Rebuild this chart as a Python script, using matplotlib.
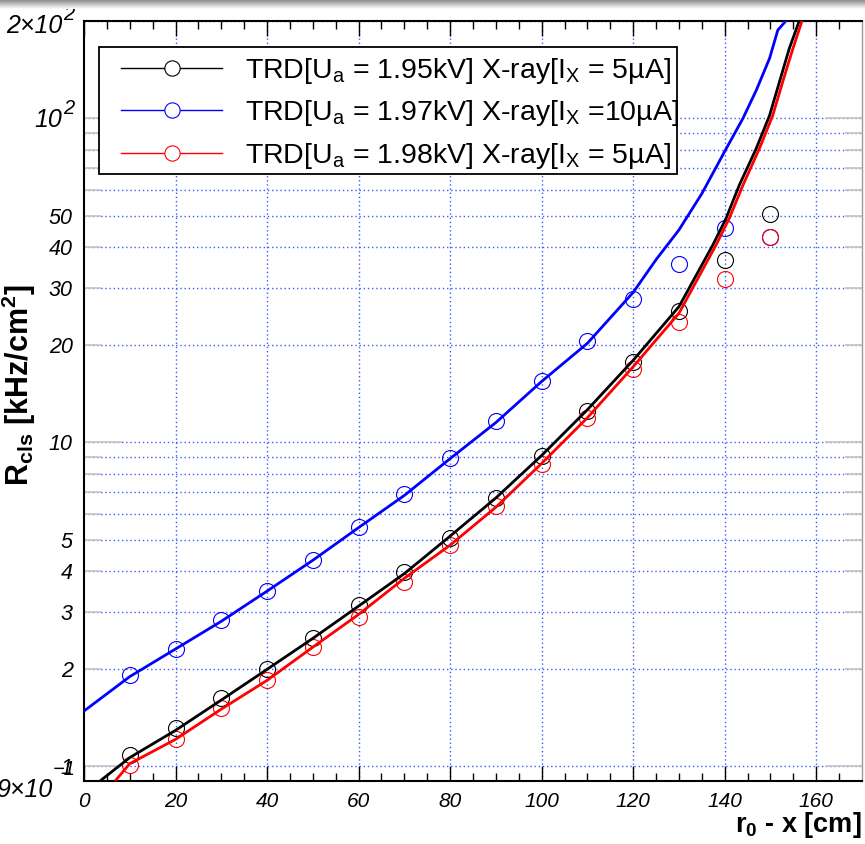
import numpy as np
import matplotlib
matplotlib.use("Agg")
import matplotlib.pyplot as plt
from matplotlib.patches import Rectangle
from matplotlib.lines import Line2D
from matplotlib.transforms import offset_copy

plt.rcParams["font.family"] = ["Liberation Sans", "DejaVu Sans"]
plt.rcParams["mathtext.fontset"] = "custom"
plt.rcParams["mathtext.rm"] = "Liberation Sans"
plt.rcParams["mathtext.it"] = "Liberation Sans:italic"
plt.rcParams["mathtext.bf"] = "Liberation Sans:bold"

# ---- measured cluster rates [kHz/cm^2] vs distance r0 - x [cm] ----
distance = [10, 20, 30, 40, 50, 60, 70, 80, 90, 100, 110, 120, 130, 140, 150]
rate_195 = [1.08, 1.31, 1.62, 1.99, 2.49, 3.14, 3.98, 5.05, 6.71, 9.05, 12.5, 17.7, 25.4, 36.5, 50.5]
rate_197 = [1.91, 2.30, 2.83, 3.47, 4.34, 5.46, 6.91, 8.93, 11.6, 15.4, 20.6, 27.6, 35.5, 45.7, 43.0]
rate_198 = [1.01, 1.21, 1.51, 1.84, 2.33, 2.89, 3.70, 4.81, 6.35, 8.55, 11.9, 16.8, 23.5, 32.0, 42.9]

# ---- fitted rate curves (sampled) ----
fit_x_195 = [3.5, 10, 20, 30, 40, 50, 60, 70, 80, 90, 100, 110, 120, 130, 137.4, 140.3, 143.2, 146.9, 149.8, 152.0, 154.1, 156.3]
fit_y_195 = [0.9, 1.063, 1.29, 1.60, 1.99, 2.48, 3.12, 3.93, 5.13, 6.73, 9.1, 12.6, 17.9, 26.2, 40.6, 49.1, 62.2, 80.7, 102, 130, 164, 200]
fit_x_197 = [0, 10, 20, 30, 40, 50, 60, 70, 80, 90, 100, 110, 120, 125, 130, 135, 140, 144.0, 146.9, 149.8, 151.6, 153.4]
fit_y_197 = [1.48, 1.89, 2.30, 2.80, 3.47, 4.32, 5.45, 6.85, 8.9, 11.5, 15.4, 20.2, 29.0, 36.6, 45.2, 58.5, 79, 100, 122, 153, 187, 200]
fit_x_198 = [6.8, 10, 20, 30, 40, 50, 60, 70, 80, 90, 100, 110, 120, 130, 138.1, 141.0, 144.0, 147.6, 150.5, 152.7, 154.9, 156.9]
fit_y_198 = [0.9, 1.018, 1.21, 1.50, 1.84, 2.33, 2.94, 3.80, 4.81, 6.30, 8.6, 11.9, 17.1, 25.0, 40.6, 49.1, 62.2, 80.7, 102, 130, 164, 200]

series_labels = [
    r"TRD[U$_{\rm a}$ = 1.95kV] X-ray[I$_{\rm X}$ = 5µA]",
    r"TRD[U$_{\rm a}$ = 1.97kV] X-ray[I$_{\rm X}$ =10µA]",
    r"TRD[U$_{\rm a}$ = 1.98kV] X-ray[I$_{\rm X}$ = 5µA]",
]
series_colors = ["#000000", "#0000ff", "#ff0000"]

x_ticks = [0, 20, 40, 60, 80, 100, 120, 140, 160]
y_major = [1, 10, 100]
y_minor = [2, 3, 4, 5, 6, 7, 8, 9, 20, 30, 40, 50, 60, 70, 80, 90, 200]
y_tick_text = {1: "1", 2: "2", 3: "3", 4: "4", 5: "5", 10: "10", 20: "20", 30: "30",
               40: "40", 50: "50"}
# power-of-ten labels: (value, mantissa part, exponent)
y_power_labels = [(0.9, "9×10", "−1"), (100, "10", "2"), (200, "2×10", "2")]

W, H = 865, 844
fig = plt.figure(figsize=(W / 100, H / 100), dpi=100)
ax_l, ax_r, ax_t, ax_b = 84, 862, 20.7, 781
ax = fig.add_axes([ax_l / W, 1 - ax_b / H, (ax_r - ax_l) / W, (ax_b - ax_t) / H])

ax.set_yscale("log")
ax.set_xlim(0, 170)
ax.set_ylim(0.9, 200)

grid_kw = dict(color="#3a5cff", linestyle=(0, (1, 2)), linewidth=1.0)
for xv in x_ticks[1:]:
    ax.axvline(xv, zorder=0.5, **grid_kw)
for yv in y_major + y_minor:
    ax.axhline(yv, zorder=0.5, **grid_kw)

fits = [(fit_x_195, fit_y_195), (fit_x_197, fit_y_197), (fit_x_198, fit_y_198)]
rates = [rate_195, rate_197, rate_198]
for (fx, fy), r, c in zip(fits, rates, series_colors):
    ax.plot(distance, r, linestyle="none", marker="o", markersize=11.5,
            markerfacecolor="none", markeredgecolor=c, markeredgewidth=0.8, zorder=3)
    ax.plot(fx, fy, color=c, linewidth=2.0, zorder=4, solid_capstyle="butt",
            solid_joinstyle="round")

# axes ticks
ax.set_xticks(x_ticks)
ax.set_xticks(np.arange(0, 170, 5), minor=True)
ax.set_xticklabels([str(v) for v in x_ticks], fontsize=15, fontstyle="italic")
ax.tick_params(axis="x", which="major", direction="in", length=10.8, width=1.0,
               top=True, bottom=True, pad=8, color="black")
ax.tick_params(axis="x", which="minor", direction="in", length=5.8, width=1.0,
               top=True, bottom=True, color="black")

ax.set_yticks(y_major)
ax.set_yticks(y_minor, minor=True)
ax.set_yticklabels([y_tick_text.get(v, "") for v in y_major], fontsize=15.5, fontstyle="italic")
ax.set_yticklabels([y_tick_text.get(v, "") for v in y_minor], minor=True, fontsize=15.5,
                   fontstyle="italic")
ax.tick_params(axis="y", which="major", direction="in", length=27, width=1.2,
               left=True, right=True, color="#c4c4c4", pad=8)
ax.tick_params(axis="y", which="minor", direction="in", length=12, width=1.2,
               left=True, right=True, color="#c4c4c4", pad=8)

# power-of-ten labels: larger italic mantissa with raised exponent
ytrans = ax.get_yaxis_transform()
ax_w = ax_r - ax_l
label_layout = {0.9: (52, 16, -6), 100: (62, 9, -4), 200: (62, 12, -1)}
for val, base, expo in y_power_labels:
    right_px, base_dy, sup_dy = label_layout[val]
    xa = (right_px - ax_l) / ax_w
    tb = offset_copy(ytrans, fig=fig, x=0, y=-base_dy * 0.72, units="points")
    ax.text(xa, val, base, transform=tb, ha="right", va="baseline", fontsize=18,
            fontstyle="italic", clip_on=False)
    ts = offset_copy(ytrans, fig=fig, x=0.7, y=-sup_dy * 0.72, units="points")
    ax.text(xa, val, expo, transform=ts, ha="left", va="baseline", fontsize=14.5,
            fontstyle="italic", clip_on=False)

for side in ["left", "bottom", "top"]:
    ax.spines[side].set_color("black")
    ax.spines[side].set_linewidth(1.5)
ax.spines["right"].set_color("#9a9a9a")
ax.spines["right"].set_linewidth(1.0)

# axis titles
fig.text(ax_r / W, 1 - 832 / H, r"$\mathbf{r_{0}}$ - x [cm]", ha="right", va="baseline",
         fontsize=19.5, fontweight="bold")
fig.text(19 / W, 1 - 385 / H, r"R$_{\mathbf{cls}}$ [kHz/cm$^{\mathbf{2}}$]", rotation=90,
         ha="center", va="center", fontsize=22, fontweight="bold")

# legend box
def px(xp, yp):
    return xp / W, 1 - yp / H

lx0, ly0, lx1, ly1 = 99, 47, 677, 174
box = Rectangle(px(lx0, ly1), (lx1 - lx0) / W, (ly1 - ly0) / H, transform=fig.transFigure,
                facecolor="white", edgecolor="black", linewidth=1.3, zorder=10)
fig.add_artist(box)
row_y = [68, 110, 153]
for ry, lab, c in zip(row_y, series_labels, series_colors):
    x0, y0 = px(121, ry)
    x1, _ = px(222, ry)
    xm, _ = px(172, ry)
    fig.add_artist(Line2D([x0, x1], [y0, y0], transform=fig.transFigure, color=c,
                          linewidth=1.0, zorder=11))
    fig.add_artist(Line2D([xm], [y0], transform=fig.transFigure, marker="o", markersize=11,
                          markerfacecolor="white", markeredgecolor=c, markeredgewidth=0.8,
                          zorder=12))
    tx, ty = px(245, ry + 10.4)
    fig.text(tx, ty, lab, ha="left", va="baseline", fontsize=20.5, zorder=12)

# window edge shading along the top
band = fig.add_axes([0, 1 - 9 / H, 1, 9 / H])
grad = np.linspace(0.55, 1.0, 20)[:, None] * np.ones((1, 10))
band.imshow(grad, cmap="gray", vmin=0, vmax=1, aspect="auto", extent=[0, 1, 0, 1])
band.set_axis_off()

fig.savefig("out.png", dpi=100)
